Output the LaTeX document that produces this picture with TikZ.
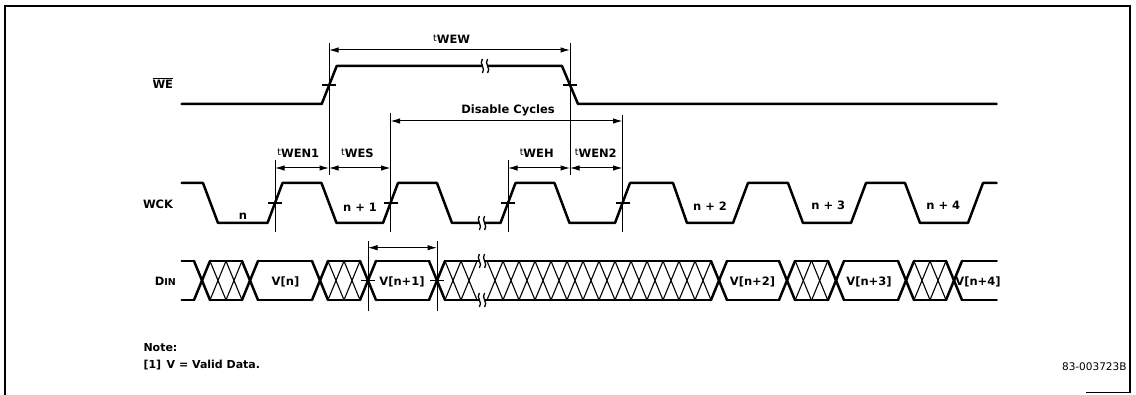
\documentclass[tikz,border=0pt]{standalone}
\usepackage{fontspec}
\setmainfont{DejaVu Sans}
\usetikzlibrary{arrows.meta}
\newcommand\tsub[1]{\raisebox{1.8pt}{\fontsize{9.5}{10}\mdseries\selectfont t}#1}
\newcommand\brkmark[2]{%
  \fill[white] (#1-2.2,#2-4.5) rectangle (#1+2.2,#2+4.5);
  \draw[brkl] (#1-2.6,#2-7) .. controls (#1-6.5,#2-2.5) and (#1+1.3,#2+2.5) .. (#1-2.6,#2+7);
  \draw[brkl] (#1+2.6,#2-7) .. controls (#1-1.3,#2-2.5) and (#1+6.5,#2+2.5) .. (#1+2.6,#2+7);
}
\begin{document}
\begin{tikzpicture}[x=1pt,y=-1pt,
  sig/.style={line width=2.5pt,line join=round,line cap=round},
  thinl/.style={line width=1pt},
  hatch/.style={line width=1.1pt},
  brkl/.style={line width=1.3pt},
  tick/.style={line width=1.3pt},
  frame/.style={line width=1.4pt},
  dim/.style={line width=1pt,{Latex[length=9.5pt,width=5.5pt]}-{Latex[length=9.5pt,width=5.5pt]}},
  lbl/.style={font=\fontsize{11.5}{13}\selectfont\bfseries,inner sep=0pt,anchor=base},
  note/.style={font=\fontsize{11}{13}\selectfont\bfseries,inner sep=0pt,anchor=base west}]
\useasboundingbox (0,0) rectangle (1136,395);
\fill[white] (0,0) rectangle (1136,395);

% frame
\draw[frame] (5,395) -- (5,6) -- (1130,6) -- (1130,393);
\draw[frame] (1086,392.5) -- (1130,392.5);

% signal names
\node[lbl,anchor=base east] (nWE) at (173.3,88.3) {$\overline{\mbox{\fontsize{11.5}{13}\selectfont\bfseries WE}}$};
\node[lbl,anchor=base east] (nWCK) at (173.3,208.3) {WCK};
\node[lbl,anchor=base east] (nDIN) at (176,286) {D{\fontsize{9.5}{10}\selectfont IN}};

% WE
\draw[sig] (181.7,104) -- (321.7,104) -- (336.7,66) -- (562,66) -- (578,104) -- (996.7,104);
\brkmark{485}{66}

% WCK
\draw[sig] (181.7,183) -- (203,183) -- (218,223) -- (267.5,223) -- (282.5,183) -- (321.5,183)
  -- (336.5,223) -- (383,223) -- (398,183) -- (437,183) -- (452,223) -- (500.5,223)
  -- (515.5,183) -- (554.5,183) -- (569.5,223) -- (615,223) -- (630,183) -- (673,183)
  -- (687,223) -- (733,223) -- (748,183) -- (788,183) -- (803,223) -- (851,223)
  -- (866,183) -- (905,183) -- (920,223) -- (968,223) -- (983,183) -- (996.7,183);
\brkmark{482}{223}

% DIN bus
\foreach \a/\b in {181.7/194,210/242,258/312,328/360,376/429,445/711,727/779,795/828,844/898,914/946,962/996.7}
  {\draw[sig] (\a,261) -- (\b,261); \draw[sig] (\a,300) -- (\b,300);}
\foreach \x in {202,250,320,368,437,719,787,836,906,954}
  {\draw[sig] (\x-8,261) -- (\x+8,300); \draw[sig] (\x-8,300) -- (\x+8,261);}
\foreach \x in {218,234,336,352,453,469,495,511,527,543,559,575,591,607,623,639,655,671,687,703,803.3,819.7,922,938}
  {\draw[hatch] (\x-8,261) -- (\x+8,300); \draw[hatch] (\x-8,300) -- (\x+8,261);}
\fill[white] (478,263) rectangle (486,298);
\brkmark{482}{261}
\brkmark{482}{300}

% vertical reference lines
\coordinate (v1t) at (275,160);   \coordinate (v1b) at (275,232);
\coordinate (v2t) at (329,43);    \coordinate (v2b) at (329,175);
\coordinate (v3t) at (390.5,113); \coordinate (v3b) at (390.5,232);
\coordinate (v4t) at (508,160);   \coordinate (v4b) at (508,232);
\coordinate (v5t) at (570,43);    \coordinate (v5b) at (570,175);
\coordinate (v6t) at (622.5,115); \coordinate (v6b) at (622.5,232);
\coordinate (v7t) at (368,241);   \coordinate (v7b) at (368,311);
\coordinate (v8t) at (437,241);   \coordinate (v8b) at (437,311);
\foreach \i in {1,...,8} {\draw[thinl] (v\i t) -- (v\i b);}

% crossing ticks
\foreach \x/\y in {329/85,570/85,275/203,390.5/203,508/203,622.5/203,368/280.5,437/280.5}
  {\draw[tick] (\x-7,\y) -- (\x+7,\y);}

% dimension arrows
\coordinate (aWEWl) at (329,50);    \coordinate (aWEWr) at (570,50);
\coordinate (aDCl) at (390.5,121);  \coordinate (aDCr) at (622.5,121);
\coordinate (aN1l) at (275,168);    \coordinate (aN1r) at (329,168);
\coordinate (aESr) at (390.5,168);
\coordinate (aEHl) at (508,168);    \coordinate (aEHr) at (570,168);
\coordinate (aN2r) at (622.5,168);
\coordinate (aDl) at (368,247.7);   \coordinate (aDr) at (437,247.7);
\draw[dim] (aWEWl) -- (aWEWr);
\draw[dim] (aDCl) -- (aDCr);
\draw[dim] (aN1l) -- (aN1r);
\draw[dim] (aN1r) -- (aESr);
\draw[dim] (aEHl) -- (aEHr);
\draw[dim] (aEHr) -- (aN2r);
\draw[dim] (aDl) -- (aDr);

% timing labels
\node[lbl] (lWEW) at (451.7,43.3) {\tsub{WEW}};
\node[lbl] (lDC) at (508,114) {Disable Cycles};
\node[lbl] (lWEN1) at (298.3,157.3) {\tsub{WEN1}};
\node[lbl] (lWES) at (357.5,157.3) {\tsub{WES}};
\node[lbl] (lWEH) at (536.7,157.3) {\tsub{WEH}};
\node[lbl] (lWEN2) at (595.8,157.3) {\tsub{WEN2}};

% cycle labels
\node[lbl] (c0) at (243,220) {n};
\node[lbl] (c1) at (360,211.7) {n + 1};
\node[lbl] (c2) at (710,210.7) {n + 2};
\node[lbl] (c3) at (828.3,210) {n + 3};
\node[lbl] (c4) at (943.3,210) {n + 4};

% data labels
\node[lbl] (d0) at (285.5,286) {V[n]};
\node[lbl] (d1) at (402,286) {V[n+1]};
\node[lbl] (d2) at (752.5,286) {V[n+2]};
\node[lbl] (d3) at (869,286) {V[n+3]};
\node[lbl] (d4) at (978,286) {V[n+4]};

% notes
\node[note] (note) at (143.3,351.7) {Note:};
\node[note] (note1) at (143.3,369) {[1]\hspace{5.5pt}V = Valid Data.};
\node[font=\fontsize{10.5}{12}\selectfont,inner sep=0pt,anchor=base east] (fig) at (1126.7,370.7) {83-003723B};
\end{tikzpicture}
\end{document}
